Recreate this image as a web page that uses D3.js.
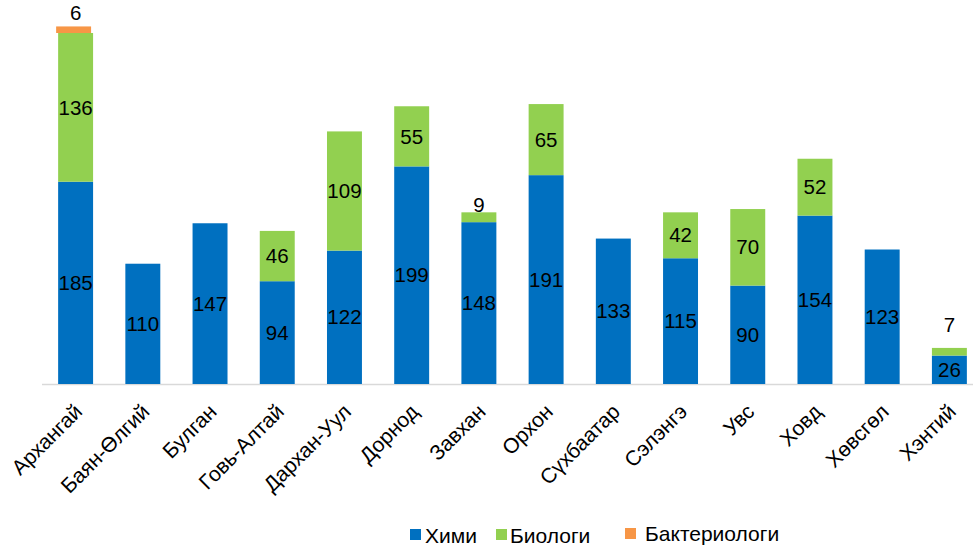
<!DOCTYPE html>
<html><head><meta charset="utf-8">
<script src="https://cdn.jsdelivr.net/npm/d3@7"></script>
<style>body{margin:0;background:#fff}svg{display:block;font-family:"Liberation Sans",Arial,sans-serif}</style>
</head><body><svg id="c" width="973" height="546"></svg>
<script>
const categories = ["Архангай","Баян-Өлгий","Булган","Говь-Алтай","Дархан-Уул","Дорнод","Завхан","Орхон","Сүхбаатар","Сэлэнгэ","Увс","Ховд","Хөвсгөл","Хэнтий"];
const khimi = [185,110,147,94,122,199,148,191,133,115,90,154,123,26];
const biologi = [136,0,0,46,109,55,9,65,0,42,70,52,0,7];
const bakteri = [6,0,0,0,0,0,0,0,0,0,0,0,0,0];
const seriesNames = ["Хими","Биологи","Бактериологи"];
const colors = ["#0070C0","#92D050","#F79646"];
// layout: how far above the stack top the small-segment labels sit (px)
const smallLabelGap = {"Архангай":14, "Завхан":8, "Хэнтий":23};

const svg = d3.select("#c");
const baseY = 384;
const x = d3.scaleBand().domain(categories).range([42, 983]).paddingInner(0.48).paddingOuter(0.24);
const y = d3.scaleLinear().domain([0, 321]).range([baseY, 33]);

const rows = categories.map((c,i)=>({cat:c, "Хими":khimi[i], "Биологи":biologi[i], "Бактериологи":bakteri[i]}));
const stacked = d3.stack().keys(seriesNames)(rows);

svg.append("line").attr("x1",42).attr("x2",973).attr("y1",baseY+0.5).attr("y2",baseY+0.5)
  .attr("stroke","#d9d9d9").attr("stroke-width",1.5);

stacked.forEach((s,si)=>{
  const g = svg.append("g");
  s.forEach((d,i)=>{
    const v = d[1]-d[0];
    if (v<=0) return;
    const bx = si===2 ? x(categories[i])-2 : x(categories[i]);
    g.append("rect").attr("x",bx).attr("width",x.bandwidth())
      .attr("y",y(d[1])).attr("height",y(d[0])-y(d[1])).attr("fill",colors[si]);
  });
});

stacked.forEach((s,si)=>{
  s.forEach((d,i)=>{
    const v = d[1]-d[0];
    if (v<=0) return;
    const cx = x(categories[i])+x.bandwidth()/2;
    let cy;
    if (v < 15) {
      const top = y(stacked[stacked.length-1][i][1]);
      cy = top - (smallLabelGap[categories[i]] || 10);
    } else {
      cy = (y(d[0])+y(d[1]))/2;
    }
    svg.append("text").attr("x",cx).attr("y",cy).attr("dy","0.35em")
      .attr("text-anchor","middle").attr("font-size",20.5).attr("fill","#000").text(v);
  });
});

categories.forEach(c=>{
  const cx = x(c)+x.bandwidth()/2 + 8;
  svg.append("text").attr("transform",`translate(${cx},${baseY+29}) rotate(-45)`)
    .attr("text-anchor","end").attr("font-size",21).attr("fill","#000").text(c);
});

const legendPos = [[410,529,425,543],[496,529,510,543],[625,528,645,541]];
seriesNames.forEach((n,i)=>{
  const p = legendPos[i];
  svg.append("rect").attr("x",p[0]).attr("y",p[1]).attr("width",11).attr("height",11).attr("fill",colors[i]);
  svg.append("text").attr("x",p[2]).attr("y",p[3]).attr("font-size",21).attr("fill","#000").text(n);
});
</script></body></html>
